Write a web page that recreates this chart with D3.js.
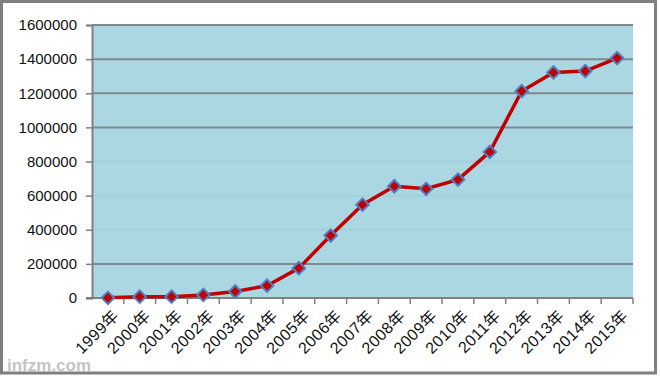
<!DOCTYPE html>
<html>
<head>
<meta charset="utf-8">
<script src="https://cdn.jsdelivr.net/npm/d3@7/dist/d3.min.js"></script>
<style>
    body { margin: 0; background: #fff; }
    svg { display: block; }
    .tick text { font-family: Arial, "Liberation Sans", "Noto Sans CJK SC", sans-serif; }
</style>
</head>
<body>
<div id="chart"></div>
<script>
`use strict`;

// chart data
let years = ['1999年', '2000年', '2001年', '2002年', '2003年', '2004年', '2005年', '2006年',
    '2007年', '2008年', '2009年', '2010年', '2011年', '2012年', '2013年', '2014年', '2015年'];
let values = [1000, 8000, 8000, 18000, 38000, 72000, 175000, 366000,
    547000, 655000, 640000, 694000, 856000, 1212000, 1322000, 1330000, 1406000];
let yTicks = [0, 200000, 400000, 600000, 800000, 1000000, 1200000, 1400000, 1600000];
let faintTicks = [400000, 600000, 800000]; // these grid lines are barely visible

let w = 660, h = 378;
let plot = { left: 92, right: 633, top: 25, bottom: 298 };

let svg = d3.select('#chart').append('svg')
    .attr('width', w).attr('height', h);

// outer frame
svg.append('rect')
    .attr('x', 1.5).attr('y', 1.5)
    .attr('width', 654).attr('height', 371.5)
    .attr('fill', '#fff')
    .attr('stroke', '#7f7f7f').attr('stroke-width', 3);

let x = d3.scaleBand().domain(years).range([plot.left, plot.right]);
let y = d3.scaleLinear().domain([0, 1600000]).range([plot.bottom, plot.top]);

// plot area
svg.append('rect')
    .attr('x', plot.left).attr('y', plot.top)
    .attr('width', plot.right - plot.left).attr('height', plot.bottom - plot.top)
    .attr('fill', '#abd7e3');

// grid lines
svg.append('g').selectAll('line').data(yTicks.filter(d => d > 0)).join('line')
    .attr('x1', plot.left).attr('x2', plot.right)
    .attr('y1', d => y(d)).attr('y2', d => y(d))
    .attr('stroke', d => faintTicks.includes(d) ? '#a2cfdc' : '#7f8a8e')
    .attr('stroke-width', 2);

// y axis
let yAxis = d3.axisLeft(y).tickValues(yTicks).tickSize(6).tickPadding(9).tickFormat(d3.format('d'));
svg.append('g')
    .attr('transform', `translate(${plot.left},0)`)
    .call(yAxis)
    .call(g => g.select('.domain').attr('stroke', '#808080').attr('stroke-width', 2))
    .call(g => g.selectAll('.tick line').attr('stroke', '#808080').attr('stroke-width', 1.5))
    .call(g => g.selectAll('.tick text').attr('font-size', 15).attr('fill', '#111'));

// x axis: ticks at category boundaries
let xg = svg.append('g').attr('transform', `translate(0,${plot.bottom})`);
xg.append('line')
    .attr('x1', plot.left - 6).attr('x2', plot.right)
    .attr('stroke', '#808080').attr('stroke-width', 2);
xg.selectAll('.xtick').data(years).join('line')
    .attr('class', 'xtick')
    .attr('x1', d => x(d) + x.bandwidth()).attr('x2', d => x(d) + x.bandwidth())
    .attr('y1', 0).attr('y2', 6)
    .attr('stroke', '#808080').attr('stroke-width', 1.5);
xg.selectAll('.xlabel').data(years).join('text')
    .attr('class', 'xlabel')
    .attr('transform', d => `translate(${x(d) + x.bandwidth() / 2 + 4},${11}) rotate(-45)`)
    .attr('text-anchor', 'end')
    .attr('dy', '0.7em')
    .attr('font-size', 16)
    .attr('letter-spacing', 0.4)
    .attr('font-family', 'Arial, "Liberation Sans", "Noto Sans CJK SC", sans-serif')
    .attr('fill', '#111')
    .text(d => d);

// line
let line = d3.line()
    .x((d, i) => x(years[i]) + x.bandwidth() / 2)
    .y(d => y(d));
svg.append('path')
    .datum(values)
    .attr('d', line)
    .attr('fill', 'none')
    .attr('stroke', '#c00000')
    .attr('stroke-width', 3.5)
    .attr('stroke-linejoin', 'round');

// diamond markers
let diamond = d3.symbol().type(d3.symbolSquare).size(78);
svg.append('g').selectAll('path').data(values).join('path')
    .attr('d', diamond)
    .attr('transform', (d, i) => `translate(${x(years[i]) + x.bandwidth() / 2},${y(d)}) rotate(45)`)
    .attr('fill', '#c00000')
    .attr('stroke', '#4f7fc0')
    .attr('stroke-width', 2);

// watermark
svg.append('text')
    .attr('x', 7).attr('y', 371)
    .attr('font-family', 'Arial, "Liberation Sans", sans-serif')
    .attr('font-weight', 'bold')
    .attr('font-size', 17)
    .attr('fill', '#c4c4c4')
    .text('infzm.com');
</script>
</body>
</html>
